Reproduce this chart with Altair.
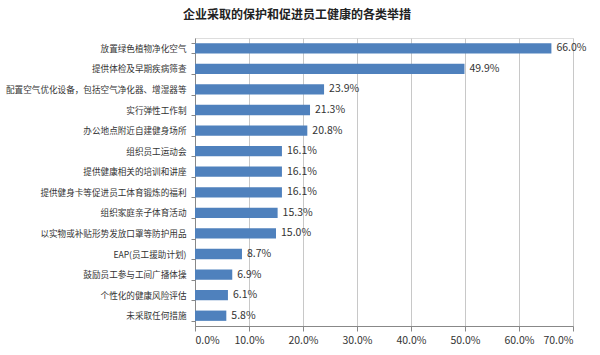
import altair as alt
import pandas as pd

categories = [
    "放置绿色植物净化空气",
    "提供体检及早期疾病筛查",
    "配置空气优化设备，包括空气净化器、增湿器等",
    "实行弹性工作制",
    "办公地点附近自建健身场所",
    "组织员工运动会",
    "提供健康相关的培训和讲座",
    "提供健身卡等促进员工体育锻炼的福利",
    "组织家庭亲子体育活动",
    "以实物或补贴形势发放口罩等防护用品",
    "EAP(员工援助计划)",
    "鼓励员工参与工间广播体操",
    "个性化的健康风险评估",
    "未采取任何措施",
]
values = [66.0, 49.9, 23.9, 21.3, 20.8, 16.1, 16.1, 16.1, 15.3, 15.0, 8.7, 6.9, 6.1, 5.8]
x_ticks = [0, 10, 20, 30, 40, 50, 60, 70]

df = pd.DataFrame({"cat": categories, "val": values})
df["label"] = [f"{v:.1f}%" for v in values]

FONT = "Noto Sans CJK SC"

y = alt.Y("cat:N", sort=categories, title=None,
          scale=alt.Scale(paddingInner=0.5, paddingOuter=0.25),
          axis=alt.Axis(labelFont=FONT, labelFontSize=8.6, labelColor="#333",
                        labelPadding=5, tickBand="extent", tickSize=4,
                        tickColor="#888", domainColor="#888", grid=False,
                        labelLimit=300))
x = alt.X("val:Q", title=None,
          scale=alt.Scale(domain=[0, 70], nice=False),
          axis=alt.Axis(values=x_ticks, labelExpr="format(datum.value, '.1f') + '%'",
                        labelFont=FONT, labelFontSize=10.5, labelColor="#333",
                        gridColor="#c8c8c8", domainColor="#888", tickColor="#888",
                        tickSize=5, labelPadding=4))

bars = alt.Chart(df).mark_bar(color="#4F81BD").encode(y=y, x=x)
text = alt.Chart(df).mark_text(align="left", dx=5, font=FONT, fontSize=10.5, color="#333").encode(
    y=alt.Y("cat:N", sort=categories), x="val:Q", text="label:N")

chart = (bars + text).properties(
    width=378, height=288,
    title=alt.TitleParams("企业采取的保护和促进员工健康的各类举措", font=FONT, fontSize=12,
                          fontWeight="bold", color="#222", anchor="middle", offset=12, dx=-87),
    autosize=alt.AutoSizeParams(type="none"),
    padding={"left": 195, "top": 38, "right": 27, "bottom": 29},
).configure_view(stroke=None).configure(background="white")

chart.save("out.html", embed_options={"renderer": "svg", "actions": False})
